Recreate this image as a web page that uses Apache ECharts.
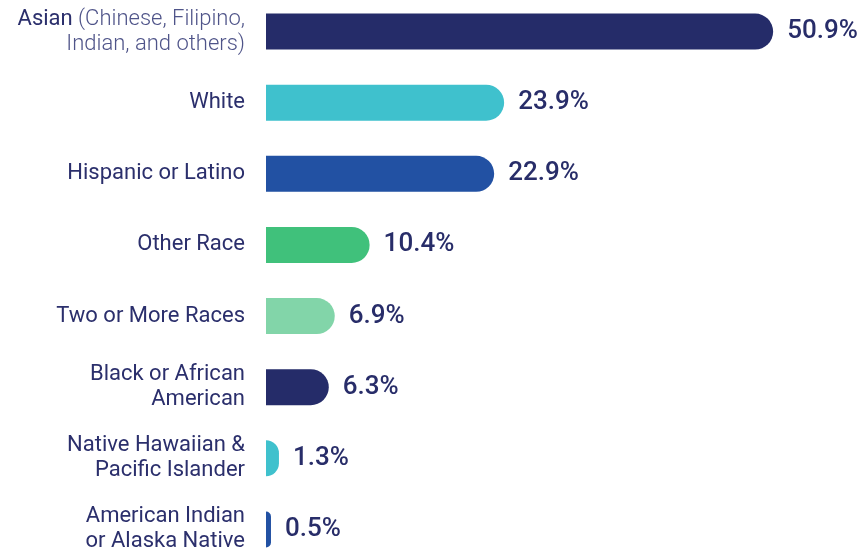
<!DOCTYPE html>
<html><head><meta charset="utf-8">
<script src="https://cdn.jsdelivr.net/npm/echarts@6/dist/echarts.min.js"></script>
<style>html,body{margin:0;padding:0;background:#fff;overflow:hidden}#c{position:absolute;left:0;top:-4px;width:863px;height:569px}</style>
</head><body><div id="c"></div>
<script>
const categories = [
  "Asian (Chinese, Filipino,\nIndian, and others)",
  "White",
  "Hispanic or Latino",
  "Other Race",
  "Two or More Races",
  "Black or African\nAmerican",
  "Native Hawaiian &\nPacific Islander",
  "American Indian\nor Alaska Native"
];
const values = [50.9, 23.9, 22.9, 10.4, 6.9, 6.3, 1.3, 0.5];
const colors = ["#252c69", "#3fc1cd", "#2251a3", "#40c17b", "#82d5a9", "#252c69", "#3fc1cd", "#2251a3"];

const chart = echarts.init(document.getElementById('c'));
chart.setOption({
  animation: false,
  grid: { left: 266, right: 49, top: 0, bottom: 0, containLabel: false },
  xAxis: { type: 'value', min: 0, max: 55, show: false },
  yAxis: {
    type: 'category', data: categories, inverse: true,
    axisLine: { show: false }, axisTick: { show: false },
    axisLabel: {
      margin: 21, align: 'right', color: '#2b2f6c',
      fontFamily: 'Roboto', fontSize: 22, lineHeight: 25,
      formatter: function (v) {
        const i = v.indexOf(' (');
        if (i >= 0) {
          return '{b|' + v.slice(0, i) + '}{l|' + v.slice(i).replace('\n', '}\n{l|') + '}';
        }
        return v;
      },
      rich: {
        b: { color: '#2b2f6c', fontFamily: 'Roboto', fontSize: 22, lineHeight: 25 },
        l: { color: '#4f5489', fontFamily: 'Roboto', fontWeight: 300, fontSize: 22, lineHeight: 25 }
      }
    }
  },
  series: [{
    type: 'bar',
    barWidth: 36,
    data: values.map((v, i) => ({ value: v, itemStyle: { color: colors[i] } })),
    itemStyle: { borderRadius: [0, 18, 18, 0] },
    label: {
      show: true, position: 'right', distance: 14,
      color: '#282d69', fontFamily: 'Roboto', fontWeight: 500, fontSize: 26,
      formatter: p => p.value.toFixed(1) + '%'
    }
  }]
});
</script></body></html>
